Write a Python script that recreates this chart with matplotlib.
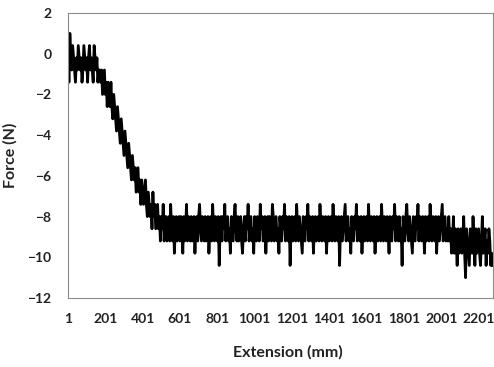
import matplotlib
matplotlib.use("Agg")
import matplotlib.pyplot as plt
import numpy as np

# force readings, one every 5 mm of extension
force_start = [0.4, -1.4, 1.0, -0.2, -0.8, 0.4, -0.2, -0.8, -1.4, -0.2,
               -0.8, 0.4, -0.2, -0.8, -0.2, -1.4, -0.8, 0.4, -0.2, -0.8,
               -0.2, -1.4, -0.2, 0.4, -0.8, -0.2, -0.8, -1.4, 0.4, -0.2,
               -0.8, -0.2, -1.4, -0.8]

force_drop = [-0.8, -1.4, -0.8, -2.0, -1.4, -0.8, -2.0, -1.4, -2.6, -1.4,
              -2.0, -2.6, -1.4, -2.6, -3.2, -2.0, -2.6, -3.2, -3.8, -2.6,
              -3.2, -3.8, -4.4, -3.2, -3.8, -4.4, -5.0, -3.8, -4.4, -5.0,
              -5.6, -4.4, -5.0, -5.6, -6.2, -5.0, -5.6, -6.2, -5.6, -6.8,
              -6.2, -5.6, -6.8, -6.2, -7.4, -6.2, -6.8, -7.4, -6.8, -6.2,
              -7.4, -8.0, -6.8, -7.4, -8.0, -7.4, -8.6, -6.8, -8.0, -7.4,
              -8.6, -8.0, -7.4, -8.6, -8.0, -9.2, -8.0, -8.6, -7.4, -9.2, -8.0]

force_plateau = [-8.0, -9.2, -8.6, -8.0, -9.2, -7.4, -8.6, -9.2, -8.0, -9.8,
                 -8.6, -8.0, -9.2, -8.6, -8.0, -9.2, -8.0, -8.6, -9.8, -8.0,
                 -9.2, -8.6, -7.4, -9.2, -8.0, -8.6, -9.2, -8.0, -9.2, -8.6,
                 -8.0, -9.8, -8.6, -8.0, -9.2, -8.0, -7.4, -8.6, -9.2, -8.0,
                 -8.6, -9.2, -8.0, -9.2, -8.6, -8.0, -9.8, -8.6, -8.0, -9.2,
                 -7.4, -8.6, -9.2, -8.0, -8.6, -9.2, -8.0, -10.4, -8.6, -8.0,
                 -9.2, -8.0, -8.6, -7.4, -9.2, -8.6, -8.0, -9.2, -8.6, -9.8,
                 -8.0, -8.6, -9.2, -8.0, -7.4, -8.6, -9.2, -8.0, -9.2, -8.6,
                 -8.0, -9.2, -9.8, -8.6, -8.0, -9.2, -8.0, -8.6, -7.4, -9.2,
                 -8.6, -8.0, -9.2, -8.6, -9.8, -8.0, -8.6, -9.2, -8.0, -8.6,
                 -9.2, -7.4, -8.6, -8.0, -9.2, -8.6, -8.0, -9.8, -8.6, -8.0,
                 -9.2, -8.0, -8.6, -9.2, -7.4, -8.0, -9.2, -8.6, -8.0, -9.2,
                 -8.6, -9.8, -8.0, -8.6, -9.2, -8.0, -8.6, -7.4, -9.2, -8.0,
                 -8.6, -9.2, -8.0, -10.4, -8.6, -8.0, -9.2, -8.6, -8.0, -9.2,
                 -7.4, -8.6, -9.2, -8.0, -8.6, -9.2, -9.8, -8.0, -8.6, -9.2,
                 -8.0, -8.6, -7.4, -9.2, -8.0, -8.6, -9.2, -8.0, -9.8, -8.6,
                 -8.0, -9.2, -8.6, -8.0, -9.2, -7.4, -8.6, -9.2, -8.0, -8.6,
                 -9.2, -8.0, -9.8, -8.6, -8.0, -9.2, -8.6, -8.0, -9.2, -7.4,
                 -8.6, -9.2, -8.0, -8.6, -9.2, -8.0, -10.4, -8.6, -8.0, -9.2,
                 -8.6, -8.0, -7.4, -9.2, -8.6, -8.0, -9.2, -8.6, -9.8, -8.0,
                 -8.6, -9.2, -8.0, -8.6, -7.4, -9.2, -8.0, -8.6, -9.2, -8.0,
                 -9.8, -8.6, -8.0, -9.2, -8.6, -8.0, -9.2, -7.4, -8.6, -9.2,
                 -8.0, -8.6, -9.2, -8.0, -9.8, -8.6, -8.0, -9.2, -8.6, -8.0,
                 -9.2, -7.4, -8.6, -9.2, -8.0, -8.6, -9.2, -8.0, -8.6, -9.8,
                 -8.0, -8.6, -9.2, -8.0, -8.6, -7.4, -9.2, -8.0, -8.6, -9.2,
                 -8.0, -9.2, -8.6, -10.4, -8.0, -8.6, -9.2, -8.0, -7.4, -8.6,
                 -9.2, -8.0, -8.6, -9.2, -9.8, -8.0, -8.6, -9.2, -8.0, -8.6,
                 -7.4, -9.2, -8.0, -8.6, -9.2, -8.0, -8.6, -9.8, -8.0, -9.2,
                 -8.6, -8.0, -9.2, -7.4, -8.6, -9.2, -8.0, -8.6, -9.2, -8.0,
                 -9.8, -8.6, -8.0, -9.2, -8.6, -8.0, -7.4, -9.2, -8.6, -8.0,
                 -9.2, -8.6, -9.2, -8.0]

force_end = [-9.2, -8.6, -9.8, -9.2, -8.0, -9.8, -8.6, -9.2, -10.4, -8.6,
             -9.8, -9.2, -8.6, -9.8, -9.2, -8.0, -9.8, -11.0, -8.6, -9.2,
             -9.8, -10.4, -8.6, -9.2, -9.8, -8.0, -9.2, -10.4, -8.6, -9.8,
             -9.2, -8.6, -9.8, -10.4, -9.2, -8.0, -9.8, -9.2, -8.6, -10.4,
             -9.2, -9.8, -8.6, -9.2, -10.4, -9.8, -10.4]

step = 5
tick_labels = [1, 201, 401, 601, 801, 1001, 1201, 1401, 1601, 1801, 2001, 2201]

force = np.array(force_start + force_drop + force_plateau + force_end)
extension = 1 + step * np.arange(len(force))

plt.rcParams['font.family'] = ['Lato', 'DejaVu Sans']

fig = plt.figure(figsize=(4.94, 3.67), dpi=100)
ax = fig.add_axes([68 / 494, 69 / 367, 425 / 494, 285 / 367])

ax.plot(extension, force, color="black", linewidth=2.0)

ax.set_xlim(1, 2278)
ax.set_ylim(-12, 2)
ax.set_xticks(tick_labels)
ax.set_xticklabels([str(t) for t in tick_labels])
ax.set_yticks(np.arange(-12, 3, 2))
ax.tick_params(length=0, labelsize=10, colors="#222222")
ax.tick_params(axis="x", pad=11)
ax.tick_params(axis="y", pad=12)
for lbl in ax.get_xticklabels() + ax.get_yticklabels():
    lbl.set_fontweight("bold")

for s in ax.spines.values():
    s.set_color("#8c8c8c")
    s.set_linewidth(0.8)

ax.set_xlabel("Extension (mm)", fontsize=11.5, fontweight="bold", color="#222222")
ax.xaxis.set_label_coords(0.517, -0.165)
ax.set_ylabel("Force (N)", fontsize=11.5, fontweight="bold", color="#222222")
ax.yaxis.set_label_coords(-0.118, 0.5)

fig.savefig("out.png", dpi=100)
